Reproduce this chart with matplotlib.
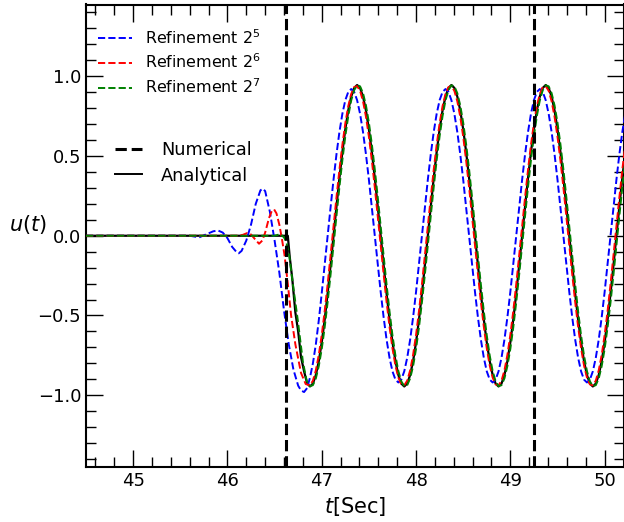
import numpy as np
import matplotlib
matplotlib.use("Agg")
import matplotlib.pyplot as plt
from matplotlib.lines import Line2D
from matplotlib.ticker import MultipleLocator

# common time samples for the oscillating part [s], 32 per period
t_wave = [46.875, 46.90625, 46.9375, 46.96875, 47.0, 47.03125, 47.0625, 47.09375,
          47.125, 47.15625, 47.1875, 47.21875, 47.25, 47.28125, 47.3125, 47.34375,
          47.375, 47.40625, 47.4375, 47.46875, 47.5, 47.53125, 47.5625, 47.59375,
          47.625, 47.65625, 47.6875, 47.71875, 47.75, 47.78125, 47.8125, 47.84375,
          47.875, 47.90625, 47.9375, 47.96875, 48.0, 48.03125, 48.0625, 48.09375,
          48.125, 48.15625, 48.1875, 48.21875, 48.25, 48.28125, 48.3125, 48.34375,
          48.375, 48.40625, 48.4375, 48.46875, 48.5, 48.53125, 48.5625, 48.59375,
          48.625, 48.65625, 48.6875, 48.71875, 48.75, 48.78125, 48.8125, 48.84375,
          48.875, 48.90625, 48.9375, 48.96875, 49.0, 49.03125, 49.0625, 49.09375,
          49.125, 49.15625, 49.1875, 49.21875, 49.25, 49.28125, 49.3125, 49.34375,
          49.375, 49.40625, 49.4375, 49.46875, 49.5, 49.53125, 49.5625, 49.59375,
          49.625, 49.65625, 49.6875, 49.71875, 49.75, 49.78125, 49.8125, 49.84375,
          49.875, 49.90625, 49.9375, 49.96875, 50.0, 50.03125, 50.0625, 50.09375,
          50.125, 50.15625, 50.1875, 50.21875, 50.25]

# analytical solution
t_exact_start = [44.5, 46.64, 46.66, 46.6875, 46.72, 46.75, 46.78, 46.8125, 46.845]
u_exact_start = [0.0, 0.0, -0.13, -0.27, -0.48, -0.60, -0.76, -0.85, -0.925]
u_exact_wave = [-0.945, -0.927, -0.873, -0.786, -0.668, -0.525, -0.362, -0.184,
                0.0, 0.184, 0.362, 0.525, 0.668, 0.786, 0.873, 0.927,
                0.945, 0.927, 0.873, 0.786, 0.668, 0.525, 0.362, 0.184,
                0.0, -0.184, -0.362, -0.525, -0.668, -0.786, -0.873, -0.927,
                -0.945, -0.927, -0.873, -0.786, -0.668, -0.525, -0.362, -0.184,
                0.0, 0.184, 0.362, 0.525, 0.668, 0.786, 0.873, 0.927,
                0.945, 0.927, 0.873, 0.786, 0.668, 0.525, 0.362, 0.184,
                0.0, -0.184, -0.362, -0.525, -0.668, -0.786, -0.873, -0.927,
                -0.945, -0.927, -0.873, -0.786, -0.668, -0.525, -0.362, -0.184,
                0.0, 0.184, 0.362, 0.525, 0.668, 0.786, 0.873, 0.927,
                0.945, 0.927, 0.873, 0.786, 0.668, 0.525, 0.362, 0.184,
                0.0, -0.184, -0.362, -0.525, -0.668, -0.786, -0.873, -0.927,
                -0.945, -0.927, -0.873, -0.786, -0.668, -0.525, -0.362, -0.184,
                0.0, 0.184, 0.362, 0.525, 0.668]

# refinement 2^5
t_r5_start = [44.5, 45.6, 45.7, 45.8, 45.85, 45.9, 45.95, 46.0, 46.05, 46.1,
              46.12, 46.15, 46.2, 46.25, 46.3, 46.35, 46.375, 46.4, 46.45,
              46.5, 46.55, 46.6, 46.65, 46.7, 46.75, 46.78, 46.8125, 46.845]
u_r5_start = [0.0, 0.0, -0.01, 0.015, 0.028, 0.033, 0.02, -0.015, -0.07, -0.105,
              -0.11, -0.095, -0.03, 0.07, 0.20, 0.285, 0.295, 0.28, 0.15,
              -0.03, -0.23, -0.47, -0.68, -0.84, -0.94, -0.97, -0.98, -0.955]
u_r5_wave = [-0.89, -0.80, -0.68, -0.53, -0.36, -0.18, 0.0, 0.179,
             0.352, 0.511, 0.651, 0.765, 0.850, 0.902, 0.92, 0.902,
             0.850, 0.765, 0.651, 0.511, 0.352, 0.179, 0.0, -0.179,
             -0.352, -0.511, -0.651, -0.765, -0.850, -0.902, -0.92, -0.902,
             -0.850, -0.765, -0.651, -0.511, -0.352, -0.179, 0.0, 0.179,
             0.352, 0.511, 0.651, 0.765, 0.850, 0.902, 0.92, 0.902,
             0.850, 0.765, 0.651, 0.511, 0.352, 0.179, 0.0, -0.179,
             -0.352, -0.511, -0.651, -0.765, -0.850, -0.902, -0.92, -0.902,
             -0.850, -0.765, -0.651, -0.511, -0.352, -0.179, 0.0, 0.179,
             0.352, 0.511, 0.651, 0.765, 0.850, 0.902, 0.92, 0.902,
             0.850, 0.765, 0.651, 0.511, 0.352, 0.179, 0.0, -0.179,
             -0.352, -0.511, -0.651, -0.765, -0.850, -0.902, -0.92, -0.902,
             -0.850, -0.765, -0.651, -0.511, -0.352, -0.179, 0.0, 0.179,
             0.352, 0.511, 0.651, 0.765, 0.850]

# refinement 2^6
t_r6_start = [44.5, 46.1, 46.16, 46.21, 46.25, 46.29, 46.335, 46.37, 46.4,
              46.44, 46.47, 46.495, 46.52, 46.55, 46.575, 46.605, 46.64,
              46.675, 46.72, 46.78, 46.83]
u_r6_start = [0.0, 0.0, 0.005, 0.017, 0.008, -0.02, -0.05, -0.03, 0.02,
              0.11, 0.155, 0.165, 0.14, 0.07, -0.01, -0.12, -0.30,
              -0.50, -0.68, -0.86, -0.93]
u_r6_wave = [-0.938, -0.909, -0.844, -0.747, -0.622, -0.472, -0.304, -0.125,
             0.059, 0.241, 0.414, 0.570, 0.705, 0.813, 0.889, 0.932,
             0.938, 0.909, 0.844, 0.747, 0.622, 0.472, 0.304, 0.125,
             -0.059, -0.241, -0.414, -0.570, -0.705, -0.813, -0.889, -0.932,
             -0.938, -0.909, -0.844, -0.747, -0.622, -0.472, -0.304, -0.125,
             0.059, 0.241, 0.414, 0.570, 0.705, 0.813, 0.889, 0.932,
             0.938, 0.909, 0.844, 0.747, 0.622, 0.472, 0.304, 0.125,
             -0.059, -0.241, -0.414, -0.570, -0.705, -0.813, -0.889, -0.932,
             -0.938, -0.909, -0.844, -0.747, -0.622, -0.472, -0.304, -0.125,
             0.059, 0.241, 0.414, 0.570, 0.705, 0.813, 0.889, 0.932,
             0.938, 0.909, 0.844, 0.747, 0.622, 0.472, 0.304, 0.125,
             -0.059, -0.241, -0.414, -0.570, -0.705, -0.813, -0.889, -0.932,
             -0.938, -0.909, -0.844, -0.747, -0.622, -0.472, -0.304, -0.125,
             0.059, 0.241, 0.414, 0.570, 0.705]

# refinement 2^7
t_r7_start = [44.5, 46.5, 46.56, 46.6, 46.625, 46.657, 46.693, 46.746, 46.8, 46.84]
u_r7_start = [0.0, 0.0, 0.01, -0.01, -0.04, -0.13, -0.30, -0.53, -0.79, -0.91]
u_r7_wave = [-0.943, -0.937, -0.894, -0.817, -0.709, -0.573, -0.416, -0.242,
             -0.059, 0.126, 0.306, 0.475, 0.625, 0.751, 0.849, 0.913,
             0.943, 0.937, 0.894, 0.817, 0.709, 0.573, 0.416, 0.242,
             0.059, -0.126, -0.306, -0.475, -0.625, -0.751, -0.849, -0.913,
             -0.943, -0.937, -0.894, -0.817, -0.709, -0.573, -0.416, -0.242,
             -0.059, 0.126, 0.306, 0.475, 0.625, 0.751, 0.849, 0.913,
             0.943, 0.937, 0.894, 0.817, 0.709, 0.573, 0.416, 0.242,
             0.059, -0.126, -0.306, -0.475, -0.625, -0.751, -0.849, -0.913,
             -0.943, -0.937, -0.894, -0.817, -0.709, -0.573, -0.416, -0.242,
             -0.059, 0.126, 0.306, 0.475, 0.625, 0.751, 0.849, 0.913,
             0.943, 0.937, 0.894, 0.817, 0.709, 0.573, 0.416, 0.242,
             0.059, -0.126, -0.306, -0.475, -0.625, -0.751, -0.849, -0.913,
             -0.943, -0.937, -0.894, -0.817, -0.709, -0.573, -0.416, -0.242,
             -0.059, 0.126, 0.306, 0.475, 0.625]

# window markers
t_marks = [46.625, 49.25]

labels = [r"Refinement $2^5$", r"Refinement $2^6$", r"Refinement $2^7$"]
colors = ["blue", "red", "green"]

fig = plt.figure(figsize=(6.24, 5.22), dpi=100)
ax = fig.add_axes([86 / 624, 55 / 522, 537.5 / 624, 462.5 / 522])

ax.plot(t_exact_start + t_wave, u_exact_start + u_exact_wave, "k-", lw=1.6, zorder=2)

runs = [(t_r5_start, u_r5_start, u_r5_wave),
        (t_r6_start, u_r6_start, u_r6_wave),
        (t_r7_start, u_r7_start, u_r7_wave)]
handles = []
for (ts, us, uw), c, lab in zip(runs, colors, labels):
    h, = ax.plot(ts + t_wave, us + uw, "--", color=c, lw=1.4, label=lab, zorder=3)
    handles.append(h)

for tm in t_marks:
    ax.axvline(tm, color="k", ls="--", lw=2.2, zorder=4)

ax.set_xlim(44.5, 50.2)
ax.set_ylim(-1.45, 1.45)
ax.xaxis.set_major_locator(MultipleLocator(1))
ax.xaxis.set_minor_locator(MultipleLocator(0.2))
ax.yaxis.set_major_locator(MultipleLocator(0.5))
ax.yaxis.set_minor_locator(MultipleLocator(0.1))
ax.tick_params(which="both", direction="in", top=True, right=True, labelsize=13)
ax.tick_params(which="major", length=12, width=1)
ax.tick_params(which="minor", length=7.5, width=1)
for s in ax.spines.values():
    s.set_linewidth(1.5)

ax.set_xlabel(r"$t$[Sec]", fontsize=15)
ax.set_ylabel(r"$u(t)$", fontsize=15, rotation=0, ha="center", va="center")
ax.yaxis.set_label_coords(-0.108, 0.524)

leg1 = ax.legend(handles=handles, loc="upper left", bbox_to_anchor=(-0.004, 0.98),
                 frameon=False, fontsize=11.4, handlelength=2.15, labelspacing=0.38)
ax.add_artist(leg1)
style_handles = [Line2D([], [], color="k", ls="--", lw=2.2),
                 Line2D([], [], color="k", ls="-", lw=1.4)]
ax.legend(style_handles, ["Numerical", "Analytical"], loc="upper left",
          bbox_to_anchor=(0.024, 0.739), frameon=False, fontsize=12.8,
          handlelength=1.5, handletextpad=1.1, labelspacing=0.42)

fig.savefig("out.png", dpi=100)
